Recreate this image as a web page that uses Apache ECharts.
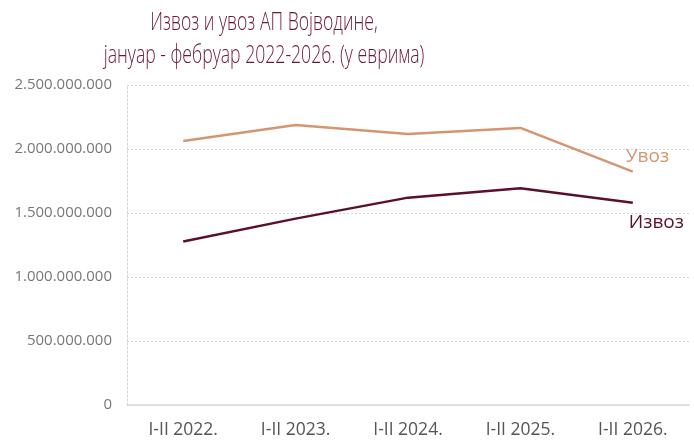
<!DOCTYPE html>
<html>
<head>
<meta charset="utf-8">
<script src="https://cdn.jsdelivr.net/npm/echarts@6/dist/echarts.min.js"></script>
<style>html,body{margin:0;padding:0;background:#fff}#c{width:694px;height:443px}</style>
</head>
<body>
<div id="c"></div>
<script>
const categories = ['I-II 2022.', 'I-II 2023.', 'I-II 2024.', 'I-II 2025.', 'I-II 2026.'];
const uvoz = [2062000000, 2188000000, 2117000000, 2165000000, 1823000000];
const izvoz = [1277000000, 1456000000, 1620000000, 1693000000, 1580000000];
const yTicks = [0, 500000000, 1000000000, 1500000000, 2000000000, 2500000000];
const titleText = 'Извоз и увоз АП Војводине,\nјануар - фебруар 2022-2026. (у еврима)';

function fmt(v) {
  return String(Math.round(v)).replace(/\B(?=(\d{3})+(?!\d))/g, '.');
}

const chart = echarts.init(document.getElementById('c'), null, {renderer: 'canvas'});
chart.setOption({
  animation: false,
  graphic: [{
    type: 'text',
    x: 264,
    y: 6,
    scaleX: 0.705,
    style: {
      text: titleText,
      textAlign: 'center',
      textVerticalAlign: 'top',
      fontFamily: '"Open Sans", sans-serif',
      fontWeight: 300,
      fontSize: 25,
      lineHeight: 33,
      fill: '#6b1838'
    }
  }],
  grid: {left: 127, right: 5, top: 85, bottom: 38},
  xAxis: {
    type: 'category',
    data: categories,
    boundaryGap: true,
    axisLine: {show: true, lineStyle: {color: '#d9d9d9', width: 1.5}},
    axisTick: {show: false},
    axisLabel: {
      margin: 16,
      fontFamily: '"Open Sans", sans-serif',
      fontSize: 17.5,
      color: '#555'
    }
  },
  yAxis: {
    type: 'value',
    min: yTicks[0],
    max: yTicks[yTicks.length - 1],
    interval: yTicks[1] - yTicks[0],
    axisLine: {show: true, lineStyle: {color: '#d4d4d4', type: [2, 2], width: 1}},
    axisTick: {show: false},
    splitLine: {show: true, lineStyle: {color: '#d4d4d4', type: [2, 2], width: 1}},
    axisLabel: {
      margin: 15,
      fontFamily: '"Open Sans", sans-serif',
      fontSize: 15,
      color: '#777',
      formatter: fmt
    }
  },
  series: [
    {
      name: 'Увоз',
      type: 'line',
      data: uvoz,
      symbol: 'none',
      lineStyle: {color: '#d49670', width: 2.5},
      itemStyle: {color: '#d49670'},
      endLabel: {
        show: true,
        formatter: '{a}',
        offset: [-15, -15],
        fontFamily: '"Open Sans", sans-serif',
        fontSize: 19,
        color: '#d49670'
      }
    },
    {
      name: 'Извоз',
      type: 'line',
      data: izvoz,
      symbol: 'none',
      lineStyle: {color: '#5a0f2f', width: 2.5},
      itemStyle: {color: '#5a0f2f'},
      endLabel: {
        show: true,
        formatter: '{a}',
        offset: [-12, 20],
        fontFamily: '"Open Sans", sans-serif',
        fontSize: 19,
        color: '#5a0f2f'
      }
    }
  ]
});
</script>
</body>
</html>
